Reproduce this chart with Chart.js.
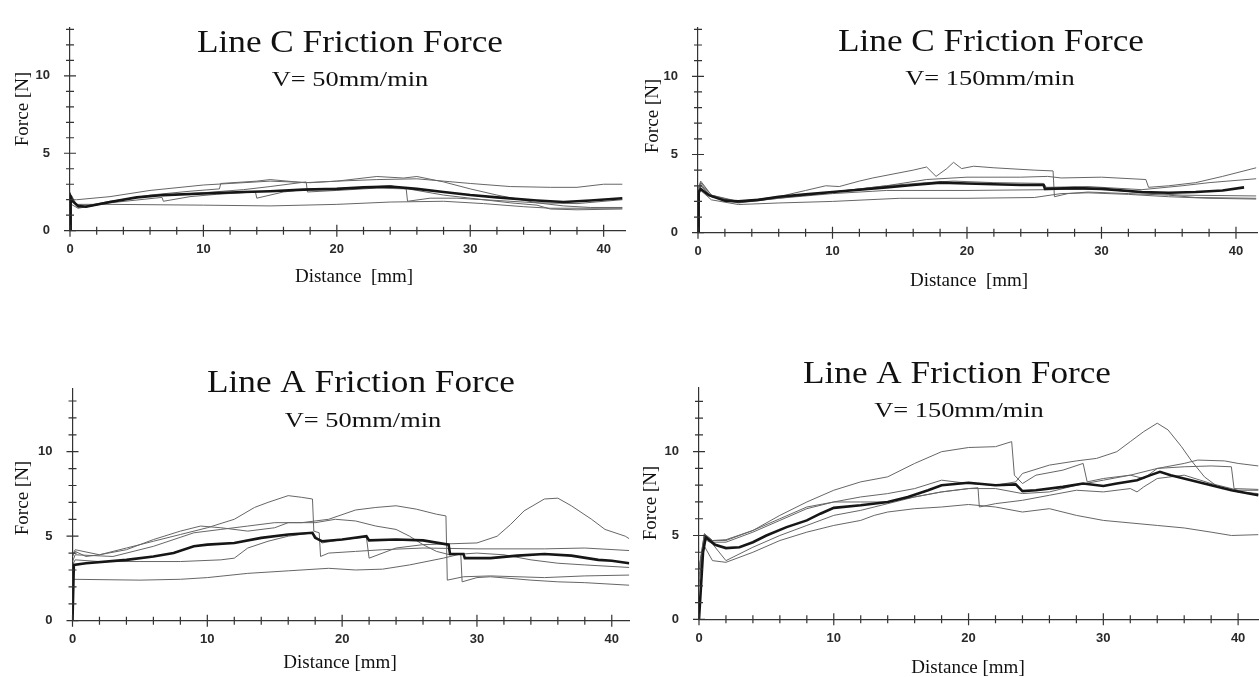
<!DOCTYPE html>
<html>
<head>
<meta charset="utf-8">
<script src="https://cdn.jsdelivr.net/npm/chart.js@4.4.0/dist/chart.umd.min.js"></script>
<style>
  html, body { margin: 0; padding: 0; background: #fff; }
  body { width: 1259px; height: 677px; position: relative; overflow: hidden; }
  canvas { position: absolute; }
</style>
</head>
<body>
<canvas id="lineC50"></canvas>
<canvas id="lineC150"></canvas>
<canvas id="lineA50"></canvas>
<canvas id="lineA150"></canvas>
<script>
// Line C, V = 50 mm/min : [distance mm, force N]
const c50Mean = [[0,0],[0.05,2.2],[0.2,1.9],[0.6,1.6],[1.2,1.55],[3,1.85],[5,2.15],[7,2.3],[10,2.4],[13,2.5],[15,2.55],[17.5,2.65],[20,2.7],[22,2.8],[24,2.85],[26,2.7],[28,2.5],[30,2.3],[32,2.15],[35,1.95],[37,1.85],[39,1.95],[41.4,2.1]];
const c50RunA = [[0,2.0],[0.5,2.0],[3,2.2],[6,2.6],[10,2.95],[12,3.05],[15,3.2],[18,3.1],[20,3.2],[23,3.3],[26,3.35],[28,3.2],[30,3.05],[33,2.85],[36,2.8],[38,2.8],[40,3.0],[41.4,3.0]];
const c50RunB = [[0,1.8],[0.1,2.3],[0.6,1.5],[3,1.85],[6,2.3],[9,2.55],[11.2,2.7],[11.3,3.05],[14,3.2],[15,3.3],[17.6,3.1],[20,3.2],[23,3.5],[25,3.4],[26,3.5],[28,3.15],[30,2.7],[32,2.3],[35,1.8],[37,1.6],[39,1.5],[41.4,1.5]];
const c50RunC = [[0,1.7],[0.1,2.0],[0.6,1.5],[3,1.9],[6,2.25],[10,2.45],[13,2.65],[15,2.85],[17.7,3.15],[17.8,2.5],[20,2.6],[23,2.75],[25.2,2.7],[25.3,1.9],[27,2.1],[29,2.1],[32,1.95],[35,1.8],[38,1.75],[41.4,2.0]];
const c50RunD = [[0,1.75],[0.6,1.45],[3,1.8],[6.9,2.15],[7,1.9],[9,2.2],[11,2.35],[13.9,2.5],[14,2.1],[16,2.5],[18,2.7],[21,2.75],[24,2.9],[26,2.6],[28,2.3],[30,2.1],[33,1.8],[35,1.65],[36,1.4],[38,1.35],[41.4,1.4]];
const c50RunE = [[0,2.0],[0.5,1.7],[3,1.7],[10,1.65],[15,1.6],[20,1.7],[24,1.85],[28,1.9],[31,1.75],[34,1.55],[36,1.45],[41.4,1.45]];

// Line C, V = 150 mm/min
const c150Mean = [[0,0],[0.05,2.6],[0.2,2.8],[0.8,2.4],[2,2.05],[3,2.0],[4.5,2.1],[6,2.3],[8,2.45],[10,2.6],[12,2.75],[14,2.9],[16,3.05],[18,3.2],[20,3.15],[22,3.1],[24,3.05],[25.7,3.05],[25.8,2.8],[28,2.85],[30,2.8],[33,2.6],[35,2.55],[37,2.6],[39,2.7],[40.6,2.9]];
const c150RunA = [[0,2.5],[0.2,3.2],[1,2.4],[3,2.0],[6,2.3],[8,2.7],[9.5,3.0],[10.5,2.95],[12,3.3],[13,3.5],[14.5,3.75],[16,4.0],[17,4.2],[17.7,3.6],[18.5,4.1],[19,4.5],[19.6,4.1],[20.5,4.25],[22,4.15],[25,4.0],[26.4,3.95],[26.5,2.3],[27.5,2.5],[29,2.6],[32,2.5],[35,2.4],[37,2.25],[41.5,2.2]];
const c150RunB = [[0,2.7],[0.2,3.0],[1,2.3],[3,1.9],[6,2.2],[10,2.6],[14,3.0],[17,3.4],[20,3.55],[24,3.55],[26,3.6],[27,3.5],[30,3.55],[33.3,3.4],[33.5,2.9],[35,3.0],[37,3.2],[39,3.6],[41.5,4.15]];
const c150RunC = [[0,2.6],[0.2,3.1],[1,2.3],[3,1.95],[6,2.2],[10,2.5],[13,2.65],[14,2.7],[20,2.7],[26,2.75],[30,2.8],[33,2.55],[36,2.4],[41.5,2.35]];
const c150RunD = [[0,2.3],[0.2,2.7],[1,2.1],[3,1.8],[6,1.9],[10,2.0],[15,2.2],[20,2.2],[25,2.25],[27,2.5],[29,2.55],[32,2.45],[35,2.3],[38,2.2],[41.5,2.15]];
const c150RunE = [[0,2.8],[0.2,3.3],[1,2.4],[3,1.95],[6,2.25],[10,2.6],[14,3.0],[17,3.2],[19,3.3],[22,3.2],[25.7,3.15],[25.9,2.9],[29,2.95],[33,2.75],[36,3.0],[38,3.2],[41.5,3.45]];

// Line A, V = 50 mm/min
const a50Mean = [[0,0],[0.1,3.3],[1,3.4],[4,3.6],[6,3.8],[7.5,4.0],[9,4.4],[10,4.5],[12,4.6],[14,4.9],[16,5.1],[17.8,5.2],[18,4.9],[18.5,4.7],[20,4.8],[21.8,5.0],[22,4.75],[24,4.8],[26,4.75],[27.9,4.5],[28,3.95],[29,3.95],[29.1,3.7],[31,3.7],[33,3.85],[35,3.95],[37,3.85],[39,3.6],[40,3.55],[41.3,3.4]];
const a50RunA = [[0,3.8],[0.2,4.1],[1,3.8],[2,3.9],[4,4.3],[6,4.7],[8,5.1],[10,5.5],[12,6.0],[13.5,6.7],[14.5,7.0],[16,7.4],[17,7.3],[17.8,7.2],[17.9,5.3],[18.3,5.2],[18.4,3.8],[19,4.0],[21,4.1],[23,4.2],[26,4.3],[30,4.25],[35,4.25],[38,4.3],[41.3,4.15]];
const a50RunB = [[0,3.5],[0.2,3.9],[3,3.8],[6,4.4],[9,5.2],[11,5.4],[13,5.6],[15,5.8],[17,5.8],[19,6.0],[21,6.55],[22.5,6.7],[24,6.8],[25.5,6.6],[27,6.3],[27.7,6.2],[27.8,2.4],[29,2.6],[31,2.65],[35,2.55],[38,2.65],[41.3,2.7]];
const a50RunC = [[0,3.3],[0.2,3.6],[2,3.5],[5,3.5],[8,3.5],[11,3.6],[12,3.7],[13,4.3],[14.5,4.7],[16,5.0],[17.8,5.2],[18.5,4.6],[20,4.8],[21.8,4.95],[22,3.7],[24,4.3],[26,4.5],[28,4.55],[30,4.6],[31.5,5.0],[32.5,5.7],[33.5,6.5],[35,7.2],[36,7.25],[37,6.8],[38.5,6.0],[39.5,5.4],[41,5.0],[41.3,4.85]];
const a50RunD = [[0,2.45],[5,2.4],[8,2.45],[10,2.55],[13,2.8],[16,2.95],[19,3.1],[21,3.0],[23,3.05],[25,3.3],[27.5,3.7],[28.8,3.95],[28.9,2.3],[30,2.55],[31,2.6],[34,2.4],[36,2.3],[38,2.25],[41.3,2.1]];
const a50RunE = [[0,3.9],[0.2,4.2],[2,3.9],[4,4.2],[6,4.8],[8,5.3],[9.5,5.6],[11,5.5],[13,5.3],[15,5.5],[16,5.8],[18,5.8],[19.5,6.0],[21,5.9],[22.5,5.6],[24,5.4],[25,5.0],[26,4.5],[27,4.1],[28,3.9],[30,4.0],[32,3.9],[34,3.6],[36,3.4],[38,3.3],[41.3,3.15]];

// Line A, V = 150 mm/min
const a150Mean = [[0,0],[0.3,4.0],[0.5,4.9],[1.2,4.45],[2,4.25],[3,4.3],[4,4.6],[5,5.0],[6.5,5.5],[8,5.9],[9,6.3],[10,6.65],[12,6.8],[14,7.0],[15.5,7.3],[17,7.7],[18,8.0],[20,8.15],[22,8.0],[23.5,8.05],[24,7.65],[25,7.7],[27,7.9],[28.5,8.1],[30,7.95],[31,8.1],[32.5,8.3],[33.5,8.6],[34.2,8.8],[35,8.6],[36.5,8.3],[38,8.0],[39.5,7.7],[41.5,7.4]];
const a150RunA = [[0,3.0],[0.4,5.1],[1,4.7],[2,4.7],[4,5.3],[6,6.2],[8,7.0],[10,7.7],[12,8.2],[14,8.5],[16,9.3],[18,10.0],[20,10.25],[22,10.3],[23.2,10.6],[23.4,8.6],[24,8.1],[25,8.6],[27,8.9],[28.5,9.3],[28.8,8.2],[30,8.4],[32,8.6],[33,8.4],[34,9.0],[36,9.3],[37,9.5],[39,9.45],[40,9.3],[41.5,9.15]];
const a150RunB = [[0,2.5],[0.4,5.0],[1,4.6],[2,4.6],[4,5.2],[6,5.9],[8,6.6],[10,7.0],[12,7.3],[14,7.5],[16,7.8],[18,8.3],[20,8.1],[22,8.0],[23.5,8.2],[24,8.7],[26,9.2],[28,9.45],[29.5,9.6],[31,10.0],[32,10.6],[33,11.2],[34,11.7],[34.8,11.3],[35.8,10.3],[36.5,9.5],[37.5,8.5],[38.5,7.9],[40,7.6],[41.5,7.5]];
const a150RunC = [[0,2.0],[0.3,4.5],[1,3.5],[2,3.4],[4,4.0],[6,4.7],[8,5.2],[10,5.6],[12,5.9],[13,6.2],[14,6.4],[16,6.6],[18,6.7],[20,6.85],[22,6.7],[24,6.4],[26,6.6],[28,6.2],[30,5.9],[34,5.6],[36,5.45],[38,5.2],[39.5,5.0],[41.5,5.05]];
const a150RunD = [[0,3.0],[0.4,4.8],[1,4.5],[2,3.5],[4,4.3],[6,5.0],[8,5.6],[10,6.2],[12,6.5],[14,6.9],[16,7.3],[18,7.6],[20,7.8],[20.7,7.85],[20.8,6.7],[22,6.9],[24,7.1],[26,7.4],[28,7.7],[30,7.6],[32,7.8],[32.5,7.6],[33,7.9],[34,8.4],[36,8.6],[38,8.1],[40,7.7],[41.5,7.7]];
const a150RunE = [[0,3.0],[0.4,5.1],[1,4.7],[2,4.75],[4,5.3],[6,6.0],[8,6.7],[10,7.0],[12,7.0],[14,7.0],[16,7.3],[18,7.6],[20,7.8],[22,7.8],[24,7.5],[26,7.6],[28,8.0],[30,8.3],[32,8.6],[34,9.0],[36,9.1],[38,9.15],[39.5,9.1],[39.7,7.8],[41.5,7.75]];

const xLabelTicks = [0, 10, 20, 30, 40];
const yLabelTicks = [0, 5, 10];

// panel placement (page pixels)
const panels = [
  { id: 'lineC50', left: 0, top: 0, w: 630, h: 300, yw: 70, pt: 13.6, pr: 5, xh: 69.3, xmax: 41.6, ymax: 13.1,
    mean: c50Mean, runs: [c50RunA, c50RunB, c50RunC, c50RunD, c50RunE],
    title: 'Line C Friction Force', titleX: 350, titleY: 51.5, sub: 'V= 50mm/min', subX: 350, subY: 85.5,
    xTitle: 'Distance  [mm]', xTitleX: 354, xTitleY: 277, yTitle: 'Force [N]', yTitleX: 23, yTitleY: 109 },
  { id: 'lineC150', left: 630, top: 0, w: 629, h: 300, yw: 68, pt: 14, pr: 1.5, xh: 67.3, xmax: 41.6, ymax: 13.1,
    mean: c150Mean, runs: [c150RunA, c150RunB, c150RunC, c150RunD, c150RunE],
    title: 'Line C Friction Force', titleX: 991, titleY: 50.5, sub: 'V= 150mm/min', subX: 990, subY: 85,
    xTitle: 'Distance  [mm]', xTitleX: 969, xTitleY: 281, yTitle: 'Force [N]', yTitleX: 653, yTitleY: 116 },
  { id: 'lineA50', left: 0, top: 330, w: 630, h: 347, yw: 72.5, pt: 58.3, pr: 0, xh: 56.3, xmax: 41.3, ymax: 13.75,
    mean: a50Mean, runs: [a50RunA, a50RunB, a50RunC, a50RunD, a50RunE],
    title: 'Line A Friction Force', titleX: 361, titleY: 391.5, sub: 'V= 50mm/min', subX: 363, subY: 426.5,
    xTitle: 'Distance [mm]', xTitleX: 340, xTitleY: 663, yTitle: 'Force [N]', yTitleX: 23, yTitleY: 498 },
  { id: 'lineA150', left: 630, top: 330, w: 629, h: 347, yw: 69, pt: 58, pr: 0, xh: 57.7, xmax: 41.55, ymax: 13.8,
    mean: a150Mean, runs: [a150RunA, a150RunB, a150RunC, a150RunD, a150RunE],
    title: 'Line A Friction Force', titleX: 957, titleY: 383, sub: 'V= 150mm/min', subX: 959, subY: 417.3,
    xTitle: 'Distance [mm]', xTitleX: 968, xTitleY: 668, yTitle: 'Force [N]', yTitleX: 651, yTitleY: 503 }
];

function toPoints(arr) {
  return arr.map(p => ({ x: p[0], y: p[1] }));
}

function stretchText(ctx, text, x, y, font, sx) {
  ctx.save();
  ctx.font = font;
  ctx.textAlign = 'center';
  ctx.textBaseline = 'alphabetic';
  ctx.translate(x, y);
  ctx.scale(sx, 1);
  ctx.fillText(text, 0, 0);
  ctx.restore();
}

// tick marks crossing the axes + titles drawn on top
const frictionAxes = {
  id: 'frictionAxes',
  afterDraw(chart, args, o) {
    const ctx = chart.ctx;
    const xs = chart.scales.x, ys = chart.scales.y;
    const x0 = xs.getPixelForValue(0), y0 = ys.getPixelForValue(0);
    ctx.save();
    ctx.strokeStyle = '#333';
    ctx.lineWidth = 1.2;
    ctx.beginPath();
    for (let v = 0; v <= xs.max; v += 2) {
      const px = xs.getPixelForValue(v);
      const len = v % 10 === 0 ? 6 : 4;
      ctx.moveTo(px, y0 - len);
      ctx.lineTo(px, y0 + len);
    }
    for (let v = 0; v <= ys.max; v += 1) {
      const py = ys.getPixelForValue(v);
      const len = v % 5 === 0 ? 6 : 4;
      ctx.moveTo(x0 - len, py);
      ctx.lineTo(x0 + len, py);
    }
    ctx.stroke();

    ctx.fillStyle = '#111';
    stretchText(ctx, o.title, o.titleX, o.titleY, '32px "Liberation Serif"', 1.1);
    stretchText(ctx, o.sub, o.subX, o.subY, '22px "Liberation Serif"', 1.2);

    ctx.font = '19px "Liberation Serif"';
    ctx.textAlign = 'center';
    ctx.textBaseline = 'middle';
    ctx.fillText(o.xTitle, o.xTitleX, o.xTitleY);
    ctx.translate(o.yTitleX, o.yTitleY);
    ctx.rotate(-Math.PI / 2);
    ctx.fillText(o.yTitle, 0, 0);
    ctx.restore();
  }
};

panels.forEach(p => {
  const canvas = document.getElementById(p.id);
  canvas.width = p.w;
  canvas.height = p.h;
  canvas.style.left = p.left + 'px';
  canvas.style.top = p.top + 'px';

  const datasets = [{
    data: toPoints(p.mean), borderColor: '#161616', borderWidth: 2.6
  }].concat(p.runs.map(r => ({
    data: toPoints(r), borderColor: '#666', borderWidth: 1
  })));

  const tickFont = { family: 'Liberation Sans', size: 13, weight: 'bold' };

  new Chart(canvas, {
    type: 'line',
    data: { datasets: datasets },
    options: {
      responsive: false,
      animation: false,
      events: [],
      layout: { padding: { left: 0, top: p.pt, right: p.pr, bottom: 0 } },
      elements: { point: { radius: 0 }, line: { tension: 0 } },
      plugins: {
        legend: { display: false },
        tooltip: { enabled: false },
        frictionAxes: {
          title: p.title, titleX: p.titleX - p.left, titleY: p.titleY - p.top,
          sub: p.sub, subX: p.subX - p.left, subY: p.subY - p.top,
          xTitle: p.xTitle, xTitleX: p.xTitleX - p.left, xTitleY: p.xTitleY - p.top,
          yTitle: p.yTitle, yTitleX: p.yTitleX - p.left, yTitleY: p.yTitleY - p.top
        }
      },
      scales: {
        x: {
          type: 'linear', min: 0, max: p.xmax,
          grid: { display: false, drawTicks: false },
          border: { display: true, color: '#333', width: 1.2 },
          ticks: {
            stepSize: 2, autoSkip: false, includeBounds: false, maxRotation: 0, padding: 11,
            color: '#2a2a2a', font: tickFont,
            callback: v => xLabelTicks.includes(v) ? String(v) : ''
          },
          afterFit: s => { s.height = p.xh; }
        },
        y: {
          type: 'linear', min: 0, max: p.ymax,
          grid: { display: false, drawTicks: false },
          border: { display: true, color: '#333', width: 1.2 },
          ticks: {
            stepSize: 1, autoSkip: false, includeBounds: false, padding: 20,
            color: '#2a2a2a', font: tickFont,
            callback: v => yLabelTicks.includes(v) ? String(v) : ''
          },
          afterFit: s => { s.width = p.yw; }
        }
      }
    },
    plugins: [frictionAxes]
  });
});
</script>
</body>
</html>
